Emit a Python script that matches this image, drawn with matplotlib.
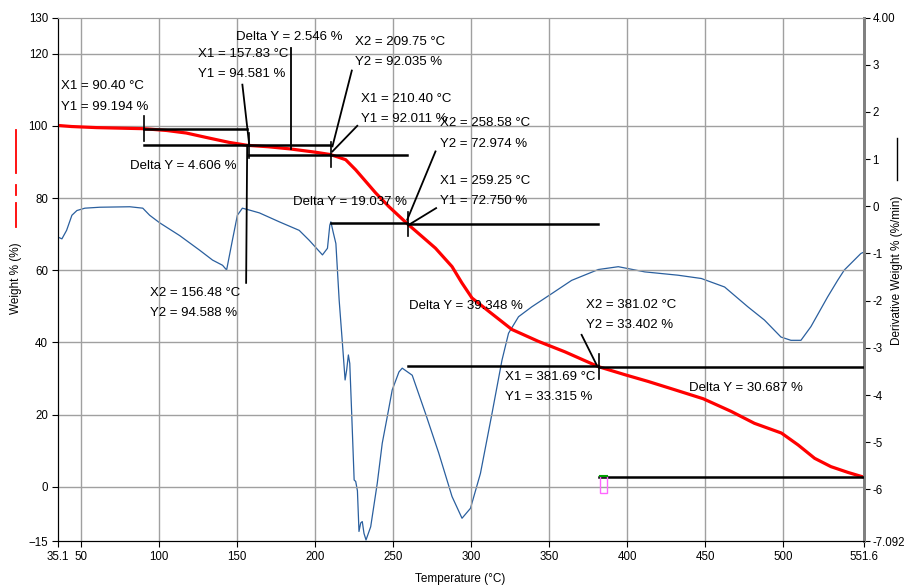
import matplotlib
matplotlib.use("Agg")
import matplotlib.pyplot as plt
from matplotlib.lines import Line2D
from matplotlib.patches import Rectangle

plt.rcParams['font.family'] = ['Liberation Sans', 'DejaVu Sans']

# weight curve (left axis)
temp_w = [35.1, 44, 60, 90.4, 105, 117.5, 130, 145, 156.5, 170, 184, 200, 209.75,
          215, 219.6, 226, 232.4, 238.8, 247.3, 259, 268.6, 277.1, 287.7, 294,
          300.5, 311, 326, 343, 360, 381.4, 398.9, 413.3, 430.3, 448.6, 466.5,
          481.4, 498.7, 509.4, 520, 530.4, 541.3, 549.8, 551.6]
weight = [100.1, 99.8, 99.5, 99.2, 98.7, 98.0, 96.8, 95.4, 94.6, 94.2, 93.6, 92.7, 92.04,
          91.3, 90.6, 87.8, 84.6, 81.4, 77.6, 72.9, 69.3, 66.1, 61.0, 56.5,
          52.3, 48.7, 43.6, 40.3, 37.4, 33.3, 31.0, 29.2, 26.9, 24.4, 20.9,
          17.6, 14.9, 11.6, 7.9, 5.6, 4.0, 2.9, 2.7]

# derivative weight curve (right axis)
temp_d = [35.1, 37.8, 40.8, 44.2, 47.4, 52.5, 62.1, 81.3, 89.6, 94.0, 100.4, 113.2,
          126.0, 134.3, 140.7, 143.3, 147.0, 150.2, 153.4, 157.9, 164.3, 177.1,
          189.8, 196.2, 204.7, 207.9, 209.4, 210.1, 211.5, 213.3, 215.4, 217.5,
          219.2, 220.2, 221.3, 222.2, 223.5, 225.0, 226.0, 227.1, 228.1, 229.2,
          230.2, 231.3, 232.6, 235.6, 239.8, 243.0, 246.2, 249.4, 253.7, 255.8,
          262.2, 270.7, 279.2, 287.7, 294.1, 299.5, 305.9, 313.3, 319.7, 323.9,
          330.3, 338.8, 351.6, 364.3, 381.4, 394.2, 411.2, 432.4, 447.4, 462.3,
          477.2, 487.8, 498.4, 504.8, 511.2, 517.6, 528.3, 534.7, 539.0, 549.6, 551.6]
deriv = [-0.65, -0.69, -0.51, -0.19, -0.09, -0.04, -0.02, -0.01, -0.04, -0.19, -0.35, -0.62,
         -0.93, -1.14, -1.25, -1.35, -0.72, -0.19, -0.04, -0.08, -0.14, -0.33,
         -0.51, -0.72, -1.03, -0.89, -0.40, -0.33, -0.54, -0.79, -1.99, -2.91,
         -3.68, -3.47, -3.15, -3.33, -4.46, -5.80, -5.83, -6.03, -6.89, -6.71,
         -6.68, -6.93, -7.07, -6.79, -5.87, -5.02, -4.46, -3.89, -3.51, -3.43,
         -3.58, -4.39, -5.23, -6.15, -6.61, -6.40, -5.66, -4.39, -3.26, -2.69,
         -2.34, -2.13, -1.85, -1.57, -1.34, -1.28, -1.39, -1.46, -1.53, -1.71,
         -2.13, -2.41, -2.77, -2.84, -2.84, -2.55, -1.92, -1.57, -1.35, -1.00, -0.97]

# step-change measurements
step_x1 = [90.40, 157.83, 210.40, 259.25, 381.69]
step_y1 = [99.194, 94.581, 92.011, 72.750, 33.315]
step_x2 = [156.48, 209.75, 258.58, 381.02, 551.6]
step_y2 = [94.588, 92.035, 72.974, 33.402, 2.628]
step_dy = [4.606, 2.546, 19.037, 39.348, 30.687]

x_ticks = [35.1, 50, 100, 150, 200, 250, 300, 350, 400, 450, 500, 551.6]
x_labels = ['35.1', '50', '100', '150', '200', '250', '300', '350', '400', '450', '500', '551.6']
yl_ticks = [-15, 0, 20, 40, 60, 80, 100, 120, 130]
yr_ticks = [-7.092, -6, -5, -4, -3, -2, -1, 0, 1, 2, 3, 4.0]
yr_labels = ['-7.092', '-6', '-5', '-4', '-3', '-2', '-1', '0', '1', '2', '3', '4.00']

fig = plt.figure(figsize=(9.07, 5.87), dpi=100)
ax = fig.add_axes([57.7 / 907, 1 - 541 / 587, (864 - 57.7) / 907, (541 - 17.5) / 587])
ax2 = ax.twinx()
ax.set_zorder(ax2.get_zorder() + 1)
ax.patch.set_visible(False)

ax.set_xlim(35.1, 551.6)
ax.set_ylim(-15, 130)
ax2.set_ylim(-7.092, 4.0)

grid_c = '#a0a0a0'
for x in x_ticks[1:-1]:
    ax.axvline(x, color=grid_c, lw=1, zorder=0)
for y in yl_ticks[1:-1]:
    ax.axhline(y, color=grid_c, lw=1, zorder=0)

ax2.plot(temp_d, deriv, color='#2a5f9e', lw=0.9)
ax.plot(temp_w, weight, color='#ff0000', lw=2.3, zorder=2)

# step lines
for x1, y1, x2, y2 in zip(step_x1, step_y1, step_x2, step_y2):
    ax.plot([x1, x2], [y1, y1], color='black', lw=1.8, zorder=3)
    ax.plot([x1, x2], [y2, y2], color='black', lw=1.8, zorder=3)
    ax.plot([x1, x1], [y1 - 3.4, y1 + 3.4], color='black', lw=1.2, zorder=3)

# leader lines
leaders = [((155.8, 56.5), (156.48, 94.588)),
           ((153.4, 111.4), (157.83, 94.581)),
           ((184.5, 121.6), (184.5, 93.5)),
           ((223.5, 115.3), (211.1, 94.3)),
           ((227.0, 100.0), (211.1, 92.9)),
           ((277.1, 92.9), (259.0, 74.0)),
           ((277.5, 77.2), (260.1, 72.6)),
           ((370.7, 42.1), (380.3, 33.8))]
for (xa, ya), (xb, yb) in leaders:
    ax.plot([xa, xb], [ya, yb], color='black', lw=1.3, zorder=3)

# annotation text: (left x, y of first line, lines)
def xy_lines(i, which):
    if which == 1:
        return ['X1 = %.2f °C' % step_x1[i], 'Y1 = %.3f %%' % step_y1[i]]
    return ['X2 = %.2f °C' % step_x2[i], 'Y2 = %.3f %%' % step_y2[i]]

labels = [
    (37.3, 110.9, xy_lines(0, 1)),
    (94.5, 53.7, xy_lines(0, 2)),
    (81.7, 88.9, ['Delta Y = %.3f %%' % step_dy[0]]),
    (124.7, 119.9, xy_lines(1, 1)),
    (225.6, 123.2, xy_lines(1, 2)),
    (149.6, 124.5, ['Delta Y = %.3f %%' % step_dy[1]]),
    (229.2, 107.5, xy_lines(2, 1)),
    (280.3, 100.7, xy_lines(2, 2)),
    (185.6, 78.8, ['Delta Y = %.3f %%' % step_dy[2]]),
    (280.3, 84.8, xy_lines(3, 1)),
    (373.3, 50.4, xy_lines(3, 2)),
    (260.0, 50.1, ['Delta Y = %.3f %%' % step_dy[3]]),
    (321.8, 30.4, xy_lines(4, 1)),
    (439.3, 27.3, ['Delta Y = %.3f %%' % step_dy[4]]),
]
for x, y, lines in labels:
    for k, s in enumerate(lines):
        ax.text(x, y - 5.6 * k, s, fontsize=9.5, ha='left', va='center', zorder=4)

# small end marker
ax.add_patch(Rectangle((382.4, -1.75), 4.8, 4.8, fill=False, ec='#ff66ff', lw=1, zorder=3))
ax.plot([382.4, 387.2], [3.05, 3.05], color='#00a000', lw=1.5, zorder=4)

ax.set_xticks(x_ticks)
ax.set_xticklabels(x_labels)
ax.set_yticks(yl_ticks)
ax2.set_yticks(yr_ticks)
ax2.set_yticklabels(yr_labels)
ax.tick_params(labelsize=8.3, length=4, direction='out', pad=3)
ax2.tick_params(labelsize=8.3, length=4, direction='out', pad=2)

for a in (ax, ax2):
    a.spines['left'].set_color('black')
    a.spines['bottom'].set_color('black')
    a.spines['top'].set_color(grid_c)
    a.spines['right'].set_color('#808080')
    a.spines['right'].set_linewidth(2)

# axis titles with line-style keys
fig.text(460 / 907, 1 - 579 / 587, 'Temperature (°C)', fontsize=8.5, ha='center', va='center')
fig.text(16 / 907, 1 - 278 / 587, 'Weight % (%)', fontsize=8.5, rotation=90, ha='center', va='center')
for ya, yb in [(130, 173), (185, 195), (203, 227)]:
    fig.add_artist(Line2D([16 / 907, 16 / 907], [1 - ya / 587, 1 - yb / 587], color='red', lw=1.3))
fig.text(897 / 907, 1 - 270 / 587, 'Derivative Weight % (%/min)', fontsize=8.5, rotation=90,
         ha='center', va='center')
fig.add_artist(Line2D([897 / 907, 897 / 907], [1 - 138 / 587, 1 - 180 / 587], color='black', lw=1))

fig.savefig('out.png', dpi=100)
